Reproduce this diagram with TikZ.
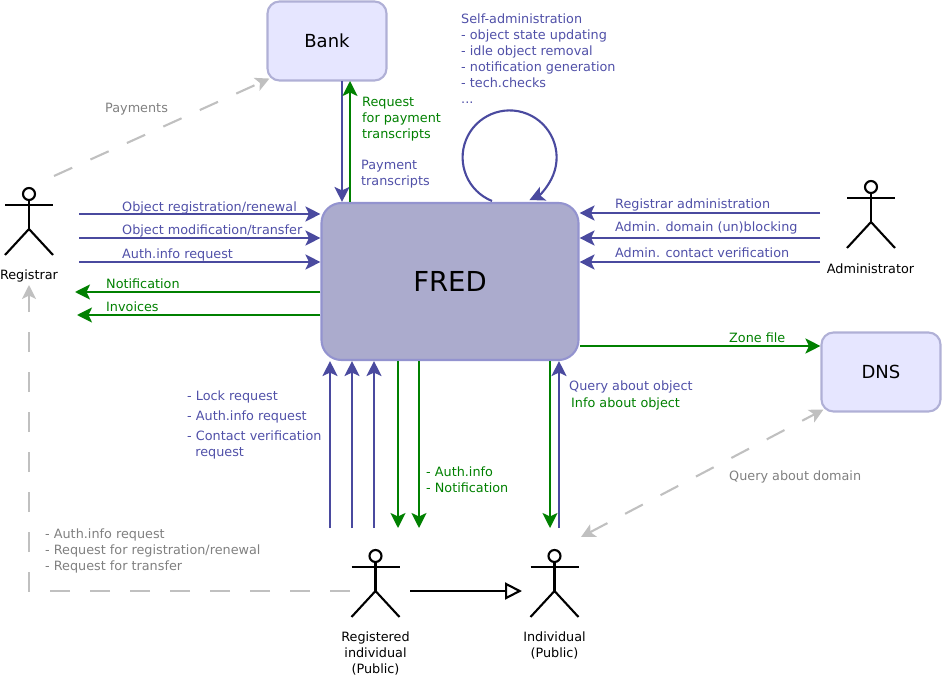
\documentclass[tikz,border=0pt]{standalone}
\usepackage{fontspec}
\setmainfont{DejaVu Sans}
\usetikzlibrary{arrows.meta}

\definecolor{fredblue}{HTML}{4A4A9F}
\definecolor{fredtext}{HTML}{5050A8}
\definecolor{fredgreen}{HTML}{008000}
\definecolor{fredgray}{HTML}{C0C0C0}
\definecolor{fredline}{HTML}{9393CF}
\definecolor{fredfill}{HTML}{ABABCD}
\definecolor{boxline}{HTML}{B0B0D6}
\definecolor{boxfill}{HTML}{E6E6FF}

\tikzset{
  bluearrow/.style={line width=2.1pt, fredblue, -{Stealth[length=15pt,width=15pt,inset=3.5pt]}},
  greenarrow/.style={line width=2.1pt, fredgreen, -{Stealth[length=15pt,width=15pt,inset=3.5pt]}},
  grayarrow/.style={line width=2.1pt, fredgray, dash pattern=on 20pt off 20pt, -{Stealth[length=14pt,width=14pt,inset=3.5pt]}},
  system/.style={draw=boxline, line width=2.1pt, rounded corners=12pt, fill=boxfill, minimum width=119pt, minimum height=79pt, font=\fontsize{18}{22}\selectfont},
  bluetext/.style={text=fredtext, anchor=west, inner sep=0pt, align=left, font=\fontsize{12.8}{16}\selectfont},
  greentext/.style={bluetext, text=fredgreen},
  graytext/.style={bluetext, text=gray},
  actortext/.style={text=black, inner sep=0pt, align=center, font=\fontsize{12.8}{16}\selectfont},
  actor/.pic={
    \node[circle, draw, line width=2.1pt, fill=white, minimum size=12pt, inner sep=0pt] (-head) at (0,-5) {};
    \draw[line width=2.1pt] (-24,6)--(24,6);
    \draw[line width=2.1pt] (-head.south)--(0,30);
    \draw[line width=2.1pt] (-24,56)--(0,30)--(24,56);
  }
}

\begin{document}
\begin{tikzpicture}[x=1pt,y=-1pt]
\useasboundingbox (0,0) rectangle (942,676);

% boxes
\node[system] (bank) at (327,41) {Bank};
\node[system] (dns) at (881,372) {DNS};
\node[system, draw=fredline, fill=fredfill, minimum width=257pt, minimum height=157pt, rounded corners=20pt, font=\fontsize{27.5}{34}\selectfont] (fred) at (450,281.5) {FRED};

% actors
\pic (registrar) at (29,199) {actor};
\pic (administrator) at (871,192) {actor};
\pic (registered) at (375.5,561) {actor};
\pic (individual) at (554.5,561) {actor};
\node[actortext] (registrartext) at (29,276) {Registrar};
\node[actortext] (administratortext) at (870.5,269) {Administrator};
\node[actortext] (registeredtext) at (375.5,653) {Registered\\individual\\(Public)};
\node[actortext] (individualtext) at (554.5,645) {Individual\\(Public)};

% registrar
\coordinate (regA) at (79,214);
\coordinate (regB) at (79,238);
\coordinate (regC) at (79,262);
\coordinate (regD) at (75,292);
\coordinate (regE) at (77,315);
\draw[bluearrow] (regA) -- (fred.west |- regA);
\draw[bluearrow] (regB) -- (fred.west |- regB);
\draw[bluearrow] (regC) -- (fred.west |- regC);
\draw[greenarrow] (fred.west |- regD) -- (regD);
\draw[greenarrow] (fred.west |- regE) -- (regE);
\node[bluetext] (regAtext) at (122,207.5) {Object registration/renewal};
\node[bluetext] (regBtext) at (122,230.5) {Object modification/transfer};
\node[bluetext] (regCtext) at (122,255) {Auth.info request};
\node[greentext] (regDtext) at (106,284) {Notification};
\node[greentext] (regEtext) at (106,307) {Invoices};

% administrator
\coordinate (admA) at (820,213);
\coordinate (admB) at (820,238);
\coordinate (admC) at (820,262);
\draw[bluearrow] (admA) -- (fred.east |- admA);
\draw[bluearrow] (admB) -- (fred.east |- admB);
\draw[bluearrow] (admC) -- (fred.east |- admC);
\node[bluetext] (admAtext) at (615,205) {Registrar administration};
\node[bluetext] (admBtext) at (615,228) {Admin. domain (un)blocking};
\node[bluetext] (admCtext) at (615,253) {Admin. contact verification};

% bank
\coordinate (bankA) at (342,81);
\coordinate (bankB) at (350,81);
\draw[bluearrow] (bankA) -- (bankA |- fred.north);
\draw[greenarrow] (bankB |- fred.north) -- (bankB);
\node[greentext] (bankBtext) at (362,119) {Request\\for payment\\transcripts};
\node[bluetext] (bankAtext) at (361,174) {Payment\\transcripts};
\coordinate (payA) at (54,176);
\draw[grayarrow] (payA) -- ([shift={(3,-3)}]bank.south west);
\node[graytext] (paymentstext) at (105,109) {Payments};

% self administration
\coordinate (selfA) at (492,201);
\draw[bluearrow] (selfA) arc[start angle=112, end angle=425, radius=47];
\node[bluetext] (selftext) at (461,59) {Self-administration\\- object state updating\\- idle object removal\\- notification generation\\- tech.checks\\...};

% dns
\coordinate (zoneA) at (580,346);
\draw[greenarrow] (zoneA) -- (dns.west |- zoneA);
\node[greentext] (zonetext) at (729,337.5) {Zone file};
\coordinate (queryA) at (581,537);
\draw[grayarrow, {Stealth[length=14pt,width=14pt,inset=3.5pt]}-{Stealth[length=14pt,width=14pt,inset=3.5pt]}] (queryA) -- ([shift={(3,-3)}]dns.south west);
\node[graytext] (querytext) at (729,477) {Query about domain};

% public
\coordinate (pubA) at (330,528);
\coordinate (pubB) at (352,528);
\coordinate (pubC) at (374,528);
\coordinate (pubD) at (398,528);
\coordinate (pubE) at (419,528);
\coordinate (pubF) at (550,528);
\coordinate (pubG) at (559,528);
\draw[bluearrow] (pubA) -- (pubA |- fred.south);
\draw[bluearrow] (pubB) -- (pubB |- fred.south);
\draw[bluearrow] (pubC) -- (pubC |- fred.south);
\draw[greenarrow] (pubD |- fred.south) -- (pubD);
\draw[greenarrow] (pubE |- fred.south) -- (pubE);
\draw[bluearrow] (pubG) -- (pubG |- fred.south);
\draw[greenarrow] (pubF |- fred.south) -- (pubF);
\node[bluetext] (pubAtext) at (187,397) {- Lock request};
\node[bluetext] (pubBtext) at (187,417) {- Auth.info request};
\node[bluetext] (pubCtext) at (187,445) {- Contact verification\\\ \ request};
\node[greentext] (pubDtext) at (426,479.5) {- Auth.info\\- Notification};
\node[bluetext] (pubGtext) at (569,387) {Query about object};
\node[greentext] (pubFtext) at (571,404) {Info about object};

\coordinate (dashA) at (350,591);
\coordinate (dashB) at (29,591);
\coordinate (dashC) at (29,285);
\draw[grayarrow] (dashA) -- (dashB) -- (dashC);
\node[graytext] (dashtext) at (45,551) {- Auth.info request\\- Request for registration/renewal\\- Request for transfer};

\coordinate (inheritA) at (410,591);
\coordinate (inheritB) at (522,591);
\draw[line width=2.1pt, -{Triangle[open,length=17pt,width=17pt]}] (inheritA) -- (inheritB);

\end{tikzpicture}
\end{document}
